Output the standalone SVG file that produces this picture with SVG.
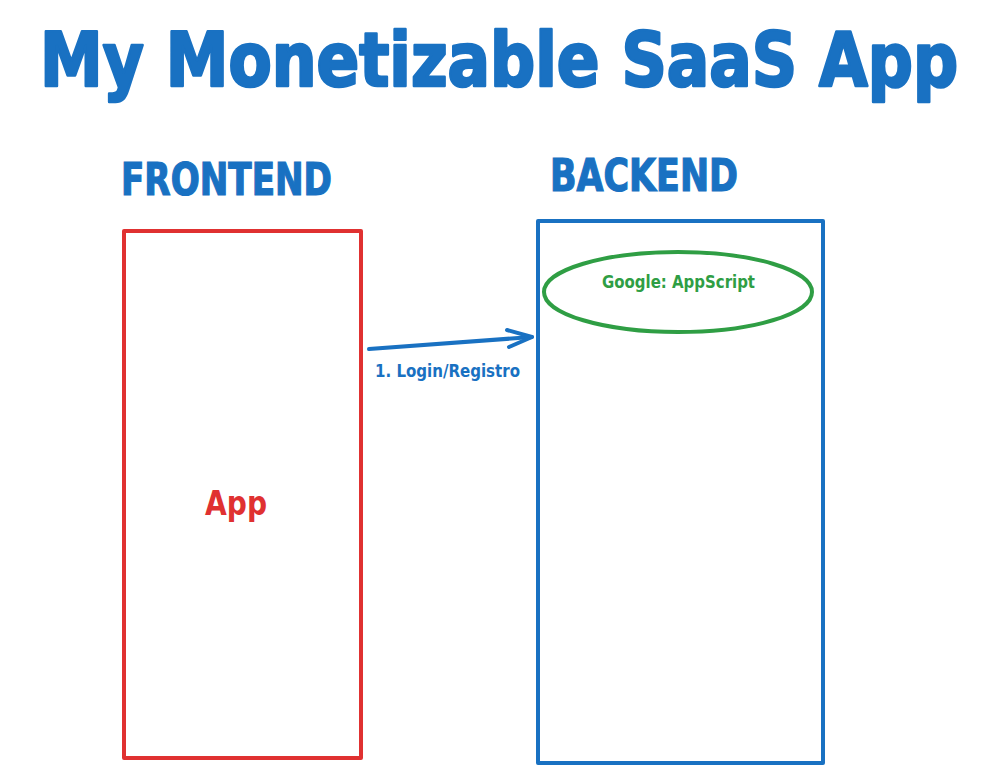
<svg xmlns="http://www.w3.org/2000/svg" width="994" height="774" viewBox="0 0 994 774">
<style>
text{font-family:"DejaVu Sans Condensed","DejaVu Sans","Liberation Sans",sans-serif;font-weight:bold}
.blue{fill:#1971c2}
.red{fill:#e03131}
.green{fill:#2f9e44}
.heavy{stroke-width:2.5;stroke-linejoin:round}
.box{fill:none;stroke-width:4;stroke-linejoin:round}
</style>
<rect width="994" height="774" fill="#ffffff"/>
<g id="title"><text class="blue heavy" stroke="#1971c2" x="40" y="86" font-size="74" textLength="918" lengthAdjust="spacingAndGlyphs">My Monetizable SaaS App</text></g>
<g id="frontend-label"><text class="blue" stroke="#1971c2" stroke-width="1.2" x="121" y="195" font-size="44" textLength="211" lengthAdjust="spacingAndGlyphs">FRONTEND</text></g>
<g id="backend-label"><text class="blue" stroke="#1971c2" stroke-width="1.2" x="550" y="191" font-size="44" textLength="188" lengthAdjust="spacingAndGlyphs">BACKEND</text></g>
<g id="frontend">
<rect class="box" x="124" y="231" width="237" height="527" stroke="#e03131"/>
<text class="red" x="205" y="515" font-size="34" textLength="62" lengthAdjust="spacingAndGlyphs">App</text>
</g>
<g id="backend">
<rect class="box" x="538" y="221" width="285" height="542" stroke="#1971c2"/>
</g>
<g id="appscript">
<ellipse cx="678" cy="292" rx="134" ry="40" fill="none" stroke="#2f9e44" stroke-width="4"/>
<text class="green" x="602" y="288" font-size="18" textLength="153" lengthAdjust="spacingAndGlyphs">Google: AppScript</text>
</g>
<g id="connectors" fill="none" stroke="#1971c2" stroke-width="4" stroke-linecap="round" stroke-linejoin="round">
<path d="M369 349 L532 337"/>
<path d="M507 330 L532 337 L509 347"/>
</g>
<g id="connector-label"><text class="blue" x="375" y="377" font-size="18" textLength="145" lengthAdjust="spacingAndGlyphs">1. Login/Registro</text></g>
</svg>
